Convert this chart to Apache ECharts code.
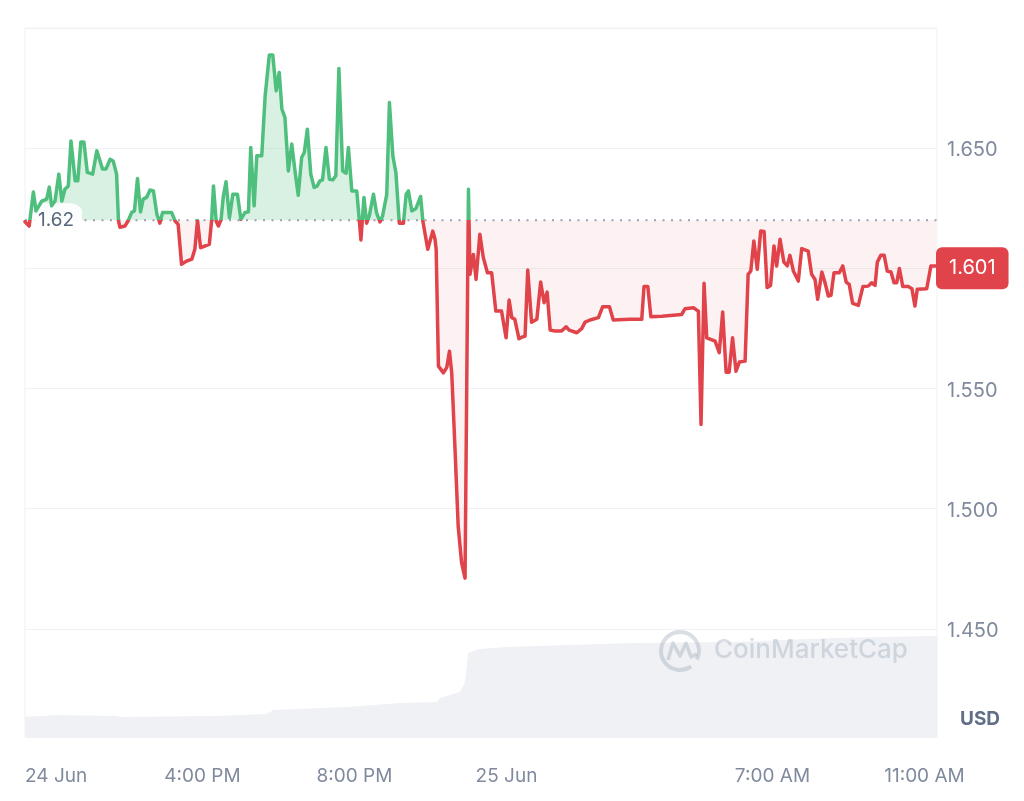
<!DOCTYPE html>
<html><head><meta charset="utf-8">
<script src="https://cdn.jsdelivr.net/npm/echarts@6/dist/echarts.min.js"></script>
<style>html,body{margin:0;padding:0;background:#fff}#c{width:1024px;height:801px}</style>
</head><body><div id="c"></div>
<script>
// time in hours since 24 Jun 00:00
const times = [
11.33,11.44,11.55,11.62,11.77,11.90,11.97,12.03,12.12,12.22,
12.30,12.38,12.47,12.54,12.65,12.72,12.80,12.88,12.97,13.11,
13.22,13.37,13.46,13.57,13.65,13.74,13.79,13.83,13.96,14.04,
14.14,14.21,14.29,14.37,14.44,14.53,14.62,14.71,14.80,14.88,
14.95,15.06,15.19,15.28,15.36,15.45,15.58,15.72,15.80,15.87,
15.95,16.07,16.18,16.24,16.29,16.36,16.42,16.49,16.55,16.62,
16.71,16.80,16.92,17.01,17.12,17.21,17.27,17.36,17.43,17.56,
17.65,17.76,17.85,17.94,18.02,18.09,18.17,18.26,18.35,18.44,
18.52,18.61,18.68,18.76,18.85,18.94,19.02,19.09,19.16,19.25,
19.34,19.43,19.51,19.59,19.69,19.78,19.84,19.93,20.06,20.13,
20.17,20.25,20.32,20.39,20.50,20.58,20.67,20.74,20.85,20.92,
21.01,21.09,21.18,21.29,21.36,21.42,21.51,21.62,21.74,21.80,
21.86,21.93,22.06,22.12,22.15,22.21,22.34,22.43,22.50,22.56,
22.65,22.73,22.82,22.91,23.00,23.04,23.13,23.20,23.30,23.39,
23.50,23.61,23.72,23.87,23.99,24.07,24.14,24.22,24.33,24.41,
24.49,24.56,24.66,24.80,24.90,24.99,25.07,25.15,25.28,25.45,
25.49,25.57,25.65,25.85,25.98,26.07,26.20,26.42,26.53,26.71,
26.81,27.25,27.56,27.62,27.72,27.80,28.09,28.61,28.70,28.92,
29.05,29.12,29.20,29.27,29.49,29.60,29.69,29.78,29.86,29.95,
30.04,30.13,30.28,30.36,30.43,30.51,30.60,30.69,30.78,30.86,
30.95,31.04,31.11,31.20,31.30,31.39,31.46,31.55,31.68,31.77,
31.94,32.03,32.12,32.19,32.30,32.38,32.47,32.54,32.62,32.76,
32.85,32.94,33.02,33.11,33.26,33.38,33.52,33.61,33.70,33.76,
33.85,33.94,34.02,34.12,34.20,34.27,34.34,34.43,34.58,34.67,
34.75,34.81,35.06,35.17,35.30
];
const prices = [
1.6194,1.6176,1.6318,1.6239,1.6280,1.6288,1.6338,1.6260,1.6280,1.6392,
1.6280,1.6329,1.6343,1.6530,1.6364,1.6364,1.6526,1.6526,1.6399,1.6392,
1.6489,1.6413,1.6413,1.6454,1.6447,1.6392,1.6197,1.6171,1.6176,1.6197,
1.6233,1.6239,1.6374,1.6235,1.6288,1.6295,1.6326,1.6322,1.6225,1.6188,
1.6232,1.6232,1.6232,1.6197,1.6183,1.6017,1.6030,1.6038,1.6079,1.6199,
1.6086,1.6093,1.6100,1.6197,1.6343,1.6197,1.6176,1.6204,1.6301,1.6360,
1.6211,1.6308,1.6308,1.6204,1.6232,1.6235,1.6503,1.6260,1.6468,1.6468,
1.6718,1.6888,1.6888,1.6739,1.6815,1.6663,1.6628,1.6405,1.6517,1.6399,
1.6304,1.6461,1.6482,1.6579,1.6392,1.6336,1.6343,1.6364,1.6368,1.6503,
1.6371,1.6368,1.6385,1.6832,1.6405,1.6396,1.6503,1.6322,1.6322,1.6197,
1.6118,1.6295,1.6188,1.6218,1.6308,1.6232,1.6193,1.6218,1.6308,1.6690,
1.6468,1.6399,1.6188,1.6188,1.6308,1.6322,1.6239,1.6249,1.6299,1.6197,
1.6142,1.6079,1.6155,1.6121,1.6079,1.5593,1.5565,1.5588,1.5655,1.5565,
1.5233,1.4926,1.4775,1.4711,1.6329,1.5975,1.6058,1.5954,1.6142,1.6045,
1.5982,1.5982,1.5822,1.5822,1.5711,1.5868,1.5795,1.5788,1.5707,1.5714,
1.5718,1.5993,1.5776,1.5788,1.5943,1.5857,1.5901,1.5743,1.5739,1.5739,
1.5733,1.5757,1.5743,1.5732,1.5749,1.5776,1.5785,1.5795,1.5840,1.5840,
1.5785,1.5788,1.5788,1.5924,1.5924,1.5799,1.5801,1.5808,1.5832,1.5836,
1.5822,1.5350,1.5938,1.5711,1.5697,1.5649,1.5818,1.5568,1.5568,1.5711,
1.5572,1.5610,1.5614,1.5975,1.5989,1.6114,1.5996,1.6155,1.6153,1.5920,
1.5929,1.6093,1.6010,1.6121,1.6026,1.6010,1.6054,1.5989,1.5947,1.6082,
1.6072,1.5975,1.5954,1.5871,1.5985,1.5942,1.5885,1.5888,1.5982,1.5982,
1.6010,1.5943,1.5933,1.5854,1.5846,1.5924,1.5926,1.5940,1.5929,1.6026,
1.6054,1.6054,1.5989,1.5985,1.5940,1.5940,1.5999,1.5924,1.5924,1.5915,
1.5843,1.5913,1.5915,1.6010,1.6010
];
// 24h volume (millions, approximate)
const volTimes  = [11.33,11.80,12.07,13.75,13.83,16.28,17.70,17.86,19.80,21.20,22.17,22.25,22.78,22.91,22.99,23.30,24.01,27.33,29.96,32.59,35.23,35.33];
const volValues = [2.03,2.10,2.20,2.10,2.00,2.10,2.30,2.70,3.00,3.40,3.50,3.90,4.50,5.50,8.40,8.80,9.00,9.40,9.50,9.90,10.10,10.10];
const baseline = 1.62;
const lastPrice = 1.601;
const xMin = 11.33, xMax = 35.33;
const xTickValues = [11.33, 16, 20, 24, 31, 35];
const xTickLabels = ['24 Jun','4:00 PM','8:00 PM','25 Jun','7:00 AM','11:00 AM'];

const GREEN = '#4fbf7e', RED = '#e0434a';
const pts = times.map((t, i) => [t, prices[i]]);
const vol = volTimes.map((t, i) => [t, volValues[i]]);

const chart = echarts.init(document.getElementById('c'));
chart.setOption({
  animation: false,
  grid: {left: 25, right: 87, top: 28, bottom: 64, show: true, borderColor: '#eef0f3', borderWidth: 1},
  xAxis: {
    type: 'value', min: xMin, max: xMax,
    axisLine: {show: false}, axisTick: {show: false}, splitLine: {show: false},
    axisLabel: {
      customValues: xTickValues,
      formatter: v => { const i = xTickValues.findIndex(t => Math.abs(t - v) < 0.01); return i >= 0 ? xTickLabels[i] : ''; },
      color: '#808a9d', fontSize: 19, fontFamily: 'Inter', margin: 30, alignMinLabel: 'left'
    }
  },
  yAxis: [{
    type: 'value', position: 'right', min: 1.405, max: 1.7,
    axisLine: {show: false}, axisTick: {show: false},
    splitLine: {lineStyle: {color: '#eff1f4'}},
    axisLabel: {showMinLabel: false, showMaxLabel: false, formatter: v => '{t|' + v.toFixed(3) + '}',
      rich: {t: {color: '#808a9d', fontSize: 20, fontFamily: 'Inter', padding: [4, 0, 0, 0]}},
      margin: 10}
  }, {type: 'value', min: 0, max: 70.9, show: false}],
  visualMap: [
    {type: 'piecewise', show: false, seriesIndex: 2, dimension: 1,
      pieces: [{gt: 1.0, lte: baseline, color: RED}, {gt: baseline, lte: 2.5, color: GREEN}]},
    {type: 'piecewise', show: false, seriesIndex: 1, dimension: 1,
      pieces: [{gt: 1.0, lte: baseline, color: 'rgba(224,67,74,0.07)'}, {gt: baseline, lte: 2.5, color: 'rgba(79,191,126,0.22)'}]}
  ],
  series: [
    {type: 'line', yAxisIndex: 1, data: vol, symbol: 'none', silent: true, z: 1,
      lineStyle: {width: 0}, areaStyle: {color: '#eff1f5', opacity: 1}},
    {type: 'line', data: pts, symbol: 'none', silent: true, z: 2,
      lineStyle: {width: 0}, areaStyle: {origin: baseline, opacity: 1}},
    {type: 'line', data: pts, symbol: 'none', silent: true, z: 4,
      lineStyle: {width: 3.5, join: 'round', cap: 'round'}},
    {type: 'line', data: [[xMin, baseline], [xMax, baseline]], symbol: 'none', silent: true, z: 3,
      lineStyle: {color: '#98a1b0', width: 2, type: [2, 6.5]},
      markPoint: {
        z: 3.5, silent: true,
        data: [{coord: [xMin, baseline], symbol: 'roundRect', symbolSize: [52, 34], symbolOffset: [31, 0],
          itemStyle: {color: 'rgba(255,255,255,0.9)'},
          label: {show: true, position: 'inside', formatter: String(baseline), color: '#58667e', fontSize: 19, fontFamily: 'Inter'}}]
      },
      markLine: {
        silent: true, symbol: ['none', 'none'],
        lineStyle: {color: 'rgba(0,0,0,0)', width: 0, type: 'solid'},
        data: [{yAxis: lastPrice}],
        label: {show: true, position: 'end', distance: -1, formatter: lastPrice.toFixed(3), backgroundColor: RED, color: '#fff',
          fontSize: 20, fontFamily: 'Inter', padding: [11, 13], borderRadius: 6}
      }}
  ],
  graphic: [
    {type: 'text', left: 960, top: 710, z: 100, style: {text: 'USD', fill: '#616e85', font: 'bold 19px Inter'}},
    {type: 'arc', z: 100, shape: {cx: 680, cy: 651, r: 19, startAngle: Math.PI * 0.3, endAngle: Math.PI * 2.15},
      style: {stroke: 'rgba(150,160,178,0.35)', lineWidth: 4, fill: null}, silent: true},
    {type: 'polyline', z: 100, shape: {points: [[668, 660], [673, 643], [680, 656], [686, 643], [691, 657], [697, 654]]},
      style: {stroke: 'rgba(150,160,178,0.35)', lineWidth: 3.5, fill: null, lineJoin: 'round'}, silent: true},
    {type: 'text', left: 714, top: 637, z: 100, style: {text: 'CoinMarketCap', fill: 'rgba(150,160,178,0.35)', font: '500 26px Inter'}, silent: true}
  ]
});
</script></body></html>
